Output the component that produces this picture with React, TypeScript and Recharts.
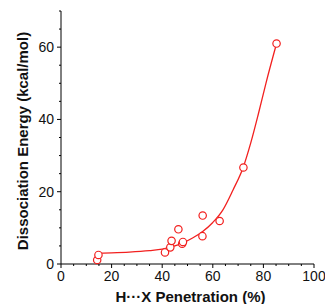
import React from "react";
import { ComposedChart, Line, Scatter, XAxis, YAxis, Label } from "recharts";

// measured points
const penetration = [14.3, 14.8, 41.1, 43.2, 43.7, 46.4, 47.9, 48.2, 55.9, 56.0, 62.7, 72.1, 85.2];
const energy = [1.1, 2.5, 3.2, 4.6, 6.4, 9.6, 5.6, 6.1, 7.7, 13.4, 11.9, 26.7, 61.0];

// fitted curve
const fitX = [15, 20, 27, 35, 40, 45, 48, 52, 56, 60, 64, 68, 72, 75, 78, 81, 85.2];
const fitY = [3.0, 3.1, 3.3, 3.7, 4.1, 5.0, 5.8, 7.2, 9.0, 11.5, 15.0, 20.5, 26.7, 33.5, 41.5, 50.0, 61.0];

const xTicks = [0, 5, 10, 15, 20, 25, 30, 35, 40, 45, 50, 55, 60, 65, 70, 75, 80, 85, 90, 95, 100];
const yTicks = [0, 5, 10, 15, 20, 25, 30, 35, 40, 45, 50, 55, 60, 65, 70];
const xMajor = [0, 20, 40, 60, 80, 100];
const yMajor = [0, 20, 40, 60];

const RED = "#f2201f";
const FONT = "'Liberation Sans', Arial, Helvetica, sans-serif";

const points = penetration.map((x, i) => ({ x, y: energy[i] }));
const fit = fitX.map((x, i) => ({ x, y: fitY[i] }));

const XTick = (props: any) => {
  const { x, y, payload } = props;
  const major = xMajor.includes(payload.value);
  return (
    <g>
      <line x1={x} x2={x} y1={y} y2={y + (major ? 4 : 2)} stroke="#000" strokeWidth={1} />
      {major && (
        <text x={x} y={y + 17} textAnchor="middle" fontSize={14} fontFamily={FONT} fill="#111">
          {payload.value}
        </text>
      )}
    </g>
  );
};

const YTick = (props: any) => {
  const { x, y, payload } = props;
  const major = yMajor.includes(payload.value);
  return (
    <g>
      <line x1={x} x2={x - (major ? 4 : 2)} y1={y} y2={y} stroke="#000" strokeWidth={1} />
      {major && (
        <text x={x - 7} y={y + 5} textAnchor="end" fontSize={14} fontFamily={FONT} fill="#111">
          {payload.value}
        </text>
      )}
    </g>
  );
};

const Dot = (props: any) => (
  <circle cx={props.cx} cy={props.cy} r={3.7} fill="#fff" stroke={RED} strokeWidth={1.2} />
);

export default function App() {
  return (
    <div style={{ position: "absolute", left: 0, top: 0, background: "#fff" }}>
      <ComposedChart width={325} height={304} margin={{ top: 11, right: 11, left: 0, bottom: 0 }}>
        <XAxis
          dataKey="x"
          type="number"
          domain={[0, 100]}
          ticks={xTicks}
          interval={0}
          tickSize={0}
          tickMargin={0}
          tickLine={false}
          tick={<XTick />}
          height={40}
          axisLine={{ stroke: "#000", strokeWidth: 1 }}
        >
          <Label
            content={(p: any) => {
              const vb = p.viewBox;
              return (
                <text
                  x={vb.x + vb.width / 2 + 3}
                  y={vb.y + 38}
                  textAnchor="middle"
                  fontSize={15}
                  fontWeight="bold"
                  fontFamily={FONT}
                  fill="#111"
                >
                  H···X Penetration (%)
                </text>
              );
            }}
          />
        </XAxis>
        <YAxis
          dataKey="y"
          type="number"
          domain={[0, 70]}
          ticks={yTicks}
          interval={0}
          tickSize={0}
          tickMargin={0}
          tickLine={false}
          tick={<YTick />}
          width={61}
          axisLine={{ stroke: "#000", strokeWidth: 1 }}
        >
          <Label
            content={(p: any) => {
              const vb = p.viewBox;
              const cx = vb.x + 28;
              const cy = vb.y + vb.height / 2 + 3.5;
              return (
                <text
                  x={cx}
                  y={cy}
                  transform={`rotate(-90, ${cx}, ${cy})`}
                  textAnchor="middle"
                  fontSize={15}
                  fontWeight="bold"
                  fontFamily={FONT}
                  fill="#111"
                >
                  Dissociation Energy (kcal/mol)
                </text>
              );
            }}
          />
        </YAxis>
        <Line
          data={fit}
          dataKey="y"
          type="monotone"
          stroke={RED}
          strokeWidth={1.3}
          dot={false}
          activeDot={false}
          isAnimationActive={false}
        />
        <Scatter data={points} dataKey="y" shape={<Dot />} isAnimationActive={false} />
      </ComposedChart>
    </div>
  );
}
